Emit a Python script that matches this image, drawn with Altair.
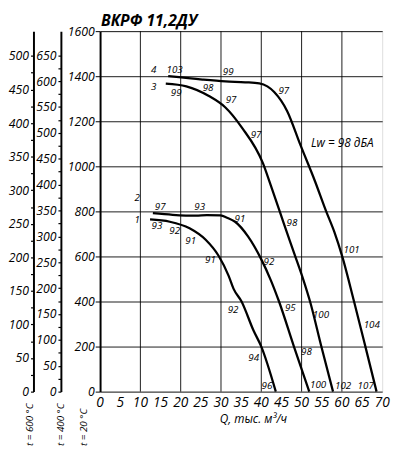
import altair as alt
import pandas as pd

# ---- data ----
c1_x = [12.4, 17.3, 22.2, 26.2, 29.4, 31.9, 33.1, 35.1, 38.1, 40.0, 43.6]
c1_y = [764, 754, 725, 674, 603, 514, 457, 400, 270, 200, 0]
c2_x = [13.1, 18.0, 23.8, 26.5, 29.9, 31.5, 33.5, 36.7, 40.0, 42.4, 44.4, 48.1, 51.9]
c2_y = [792, 785, 781, 783, 782, 772, 754, 689, 587, 493, 400, 200, 0]
c3_x = [16.3, 21.4, 27.0, 31.1, 35.1, 40.4, 42.4, 45.6, 48.1, 50.5, 52.1, 54.9, 57.8]
c3_y = [1367, 1355, 1312, 1261, 1174, 1014, 913, 746, 617, 493, 400, 200, 0]
c4_x = [16.9, 25.4, 31.1, 36.0, 39.5, 41.5, 43.2, 46.4, 49.7, 53.3, 56.1, 58.1, 60.1, 63.0, 65.8, 68.6]
c4_y = [1400, 1385, 1377, 1373, 1368, 1355, 1330, 1246, 1095, 935, 800, 710, 599, 401, 202, 0]

lab_text = ["4", "103", "99", "3", "99", "98", "97", "97", "97",
            "2", "97", "93", "91", "1", "93", "92", "91", "91", "92", "98", "101",
            "92", "95", "100", "104", "94", "98", "96", "100", "102", "107"]
lab_x = [13.3, 18.5, 31.8, 13.3, 18.9, 26.8, 32.5, 45.6, 38.7,
         9.2, 14.9, 24.7, 34.7, 9.2, 14.1, 18.5, 22.5, 27.4, 41.9, 47.6, 62.4,
         33.0, 47.2, 54.8, 67.4, 38.1, 51.2, 41.4, 54.1, 60.3, 65.9]
lab_y = [1427, 1427, 1420, 1353, 1325, 1346, 1292, 1336, 1137,
         859, 821, 817, 766, 763, 737, 712, 669, 582, 575, 749, 628,
         364, 369, 341, 297, 151, 176, 24, 27, 24, 24]

note_text = ["Lw = 98 дБА"]
note_x = [60.1]
note_y = [1103]

x_ticks = list(range(0, 71, 5))
x_grid = list(range(10, 70, 10))
y20_ticks = list(range(0, 1601, 200))
y400_ticks = list(range(0, 651, 25))
y600_ticks = list(range(0, 501, 25))
temps = [20, 400, 600]
y_max = 1600
y400_max = y_max * (273 + temps[0]) / (273 + temps[1])
y600_max = y_max * (273 + temps[0]) / (273 + temps[2])

FONT = "Open Sans"
W, H = 288, 368

rows = []
for cid, xs, ys in [("1", c1_x, c1_y), ("2", c2_x, c2_y), ("3", c3_x, c3_y), ("4", c4_x, c4_y)]:
    for xv, yv in zip(xs, ys):
        rows.append({"curve": cid, "q": xv, "p": yv})
curves_df = pd.DataFrame(rows)
labels_df = pd.DataFrame({"t": lab_text, "q": lab_x, "p": lab_y})
note_df = pd.DataFrame({"t": note_text, "q": note_x, "p": note_y})
grid_df = pd.DataFrame({"q": x_grid})
xtick_df = pd.DataFrame({"q": x_ticks, "t": [str(v) for v in x_ticks]})

xscale = alt.Scale(domain=[0, 70], nice=False, zero=False)
yscale = alt.Scale(domain=[0, y_max], nice=False)

x_axis = alt.Axis(
    values=x_ticks, grid=False, labels=False, ticks=False, domain=False,
    title="Q, тыс. м³/ч", titleFont=FONT, titleFontStyle="italic", titleFontWeight="normal",
    titleFontSize=12, titleColor="#000", titleAlign="center", titleBaseline="middle",
    titleX=156, titleY=28,
)

y_axis = alt.Axis(
    values=y20_ticks, grid=True, gridColor="#000", gridWidth=1, gridOpacity=0.9,
    format="d", labelOverlap=False,
    domainColor="#000", domainWidth=2, tickColor="#000", tickSize=5, labelPadding=1,
    labelFont=FONT, labelFontStyle="italic", labelFontSize=12.5, labelColor="#000",
    orient="left",
    title="t = 20 °C", titleFont=FONT, titleFontStyle="italic", titleFontWeight="normal",
    titleFontSize=10, titleColor="#000", titleAngle=270, titleAlign="left",
    titleBaseline="middle", titleX=-17, titleY=423,
)

grid = alt.Chart(grid_df).mark_rule(color="#000", strokeWidth=1, opacity=0.9).encode(
    x=alt.X("q:Q", scale=xscale, axis=x_axis),
)

xlabels = alt.Chart(xtick_df).mark_text(
    font=FONT, fontStyle="italic", fontSize=14, color="black", align="center", baseline="middle"
).encode(x=alt.X("q:Q", scale=xscale, axis=x_axis), y=alt.value(H + 12), text="t:N")

lines = alt.Chart(curves_df).mark_line(color="black", strokeWidth=2.3, interpolate="monotone").encode(
    x=alt.X("q:Q", scale=xscale, axis=x_axis),
    y=alt.Y("p:Q", scale=yscale, axis=y_axis),
    detail="curve:N",
    order="q:Q",
)

labels = alt.Chart(labels_df).mark_text(
    font=FONT, fontStyle="italic", fontSize=10, color="black", align="center", baseline="middle"
).encode(x=alt.X("q:Q", scale=xscale, axis=x_axis), y="p:Q", text="t:N")

note = alt.Chart(note_df).mark_text(
    font=FONT, fontStyle="italic", fontSize=12, color="black", align="center", baseline="middle"
).encode(x=alt.X("q:Q", scale=xscale, axis=x_axis), y="p:Q", text="t:N")

main = alt.layer(grid, lines, labels, note, xlabels)


def side_axis(ticks, vmax, offset, title, title_x):
    df = pd.DataFrame({"v": ticks})
    ax = alt.Axis(
        values=ticks, orient="left", offset=offset, grid=False, format="d", labelOverlap=False,
        domainColor="#000", domainWidth=2, tickColor="#000", tickSize=3, tickWidth=1.2,
        labelPadding=2, labelFont=FONT, labelFontStyle="italic", labelFontSize=12.5,
        labelColor="#000", labelExpr="datum.value % 50 === 0 ? datum.label : ''",
        title=title, titleFont=FONT, titleFontStyle="italic", titleFontWeight="normal",
        titleFontSize=10, titleColor="#000", titleAngle=270, titleAlign="left",
        titleBaseline="middle", titleX=title_x, titleY=423,
    )
    return alt.Chart(df).mark_point(opacity=0).encode(
        x=alt.value(0),
        y=alt.Y("v:Q", scale=alt.Scale(domain=[0, vmax], nice=False), axis=ax),
    )


ax400 = side_axis(y400_ticks, y400_max, 40, "t = 400 °C", 0)
ax600 = side_axis(y600_ticks, y600_max, 68, "t = 600 °C", -4)

chart = alt.layer(main, ax400, ax600).resolve_scale(y="independent").properties(
    width=W, height=H,
    autosize=alt.AutoSizeParams(type="none"),
    padding={"left": 94, "top": 19, "right": 10, "bottom": 57},
    title=alt.TitleParams("ВКРФ 11,2ДУ", anchor="start", frame="group", font=FONT, fontSize=16,
                          fontWeight="bold", fontStyle="italic", color="#000",
                          offset=4, dx=1, dy=8),
).configure_view(stroke="black", strokeWidth=2).configure(background="white")

chart.save("out.html", embed_options={"renderer": "svg", "actions": False})
